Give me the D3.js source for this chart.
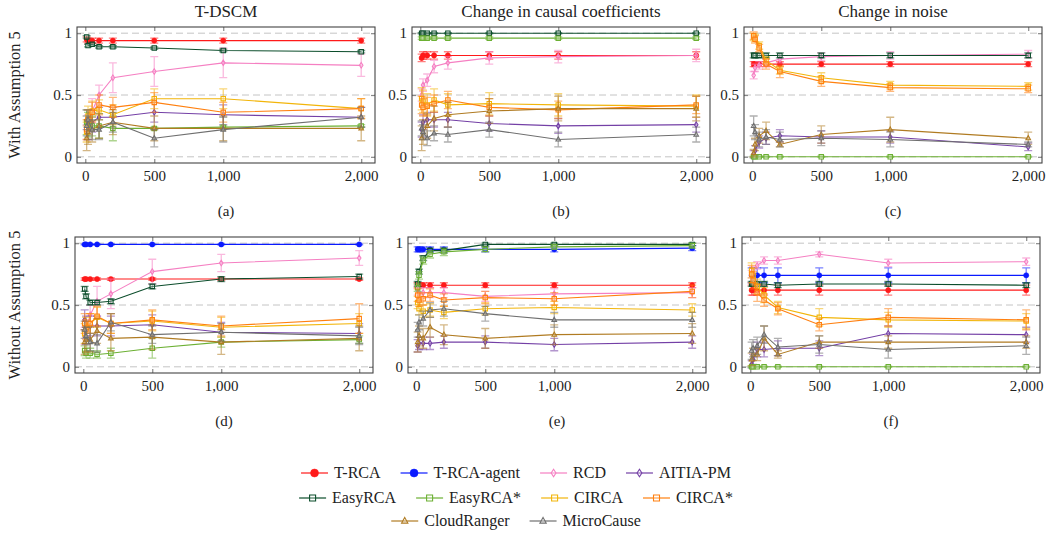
<!DOCTYPE html>
<html><head><meta charset="utf-8">
<script src="https://cdn.jsdelivr.net/npm/d3@7"></script>
<style>
body{margin:0;background:#fff}
svg text{font-family:'Liberation Serif','DejaVu Serif',serif !important;fill:#222}
</style>
</head><body>
<svg id="chart" width="1051" height="536"></svg>
<script>
// ---------------- data ----------------
const xValues = [10, 20, 50, 100, 200, 500, 1000, 2000];
const xTicks = [0, 500, 1000, 2000];
const xTickLabels = ["0", "500", "1,000", "2,000"];
const yTicks = [0, 0.5, 1];
const yTickLabels = ["0", "0.5", "1"];
const methods = ["T-RCA", "T-RCA-agent", "RCD", "AITIA-PM", "EasyRCA", "EasyRCA*", "CIRCA", "CIRCA*", "CloudRanger", "MicroCause"];
const panelTitles = ["T-DSCM", "Change in causal coefficients", "Change in noise"];
const panelLabels = ["(a)", "(b)", "(c)", "(d)", "(e)", "(f)"];
const rowLabels = ["With Assumption 5", "Without Assumption 5"];

// (a) T-DSCM, with Assumption 5
const meanA = {
  "T-RCA":       [0.95, 0.94, 0.94, 0.94, 0.94, 0.94, 0.94, 0.94],
  "RCD":         [0.20, 0.26, 0.37, 0.50, 0.64, 0.69, 0.76, 0.74],
  "AITIA-PM":    [0.30, 0.22, 0.28, 0.32, 0.32, 0.36, 0.34, 0.32],
  "EasyRCA":     [0.97, 0.90, 0.91, 0.89, 0.89, 0.88, 0.86, 0.85],
  "EasyRCA*":    [0.28, 0.26, 0.25, 0.25, 0.23, 0.23, 0.24, 0.25],
  "CIRCA":       [0.20, 0.33, 0.37, 0.38, 0.34, 0.47, 0.47, 0.39],
  "CIRCA*":      [0.22, 0.30, 0.36, 0.42, 0.40, 0.44, 0.36, 0.39],
  "CloudRanger": [0.15, 0.20, 0.22, 0.25, 0.28, 0.23, 0.23, 0.23],
  "MicroCause":  [0.25, 0.30, 0.22, 0.22, 0.28, 0.15, 0.22, 0.32]
};
const errA = {
  "T-RCA":       [0.02, 0.02, 0.02, 0.02, 0.02, 0.02, 0.02, 0.02],
  "RCD":         [0.06, 0.08, 0.10, 0.08, 0.12, 0.12, 0.12, 0.09],
  "AITIA-PM":    [0.08, 0.08, 0.08, 0.08, 0.08, 0.08, 0.08, 0.08],
  "EasyRCA":     [0.01, 0.01, 0.01, 0.01, 0.01, 0.01, 0.01, 0.01],
  "EasyRCA*":    [0.10, 0.10, 0.08, 0.10, 0.10, 0.01, 0.01, 0.01],
  "CIRCA":       [0.08, 0.08, 0.08, 0.08, 0.08, 0.08, 0.08, 0.08],
  "CIRCA*":      [0.08, 0.08, 0.08, 0.08, 0.08, 0.08, 0.08, 0.08],
  "CloudRanger": [0.10, 0.10, 0.10, 0.10, 0.10, 0.10, 0.10, 0.10],
  "MicroCause":  [0.08, 0.08, 0.08, 0.08, 0.08, 0.07, 0.10, 0.08]
};

// (b) Change in causal coefficients, with Assumption 5
const meanB = {
  "T-RCA":       [0.80, 0.82, 0.82, 0.82, 0.82, 0.82, 0.82, 0.82],
  "RCD":         [0.50, 0.58, 0.62, 0.73, 0.76, 0.80, 0.81, 0.82],
  "AITIA-PM":    [0.22, 0.28, 0.30, 0.30, 0.30, 0.27, 0.25, 0.26],
  "EasyRCA":     [1.00, 1.00, 1.00, 1.00, 1.00, 1.00, 1.00, 1.00],
  "EasyRCA*":    [0.96, 0.96, 0.96, 0.96, 0.96, 0.96, 0.96, 0.96],
  "CIRCA":       [0.47, 0.45, 0.42, 0.46, 0.42, 0.43, 0.42, 0.41],
  "CIRCA*":      [0.42, 0.40, 0.41, 0.43, 0.46, 0.40, 0.38, 0.42],
  "CloudRanger": [0.15, 0.20, 0.25, 0.31, 0.34, 0.37, 0.39, 0.39],
  "MicroCause":  [0.23, 0.20, 0.15, 0.19, 0.18, 0.22, 0.14, 0.18]
};
const errB = {
  "T-RCA":       [0.03, 0.03, 0.03, 0.03, 0.03, 0.03, 0.03, 0.03],
  "RCD":         [0.05, 0.05, 0.05, 0.05, 0.05, 0.05, 0.05, 0.05],
  "AITIA-PM":    [0.06, 0.06, 0.06, 0.06, 0.06, 0.06, 0.06, 0.06],
  "EasyRCA":     [0.005, 0.005, 0.005, 0.005, 0.005, 0.005, 0.005, 0.005],
  "EasyRCA*":    [0.01, 0.01, 0.01, 0.01, 0.01, 0.01, 0.01, 0.01],
  "CIRCA":       [0.09, 0.09, 0.09, 0.09, 0.09, 0.09, 0.09, 0.09],
  "CIRCA*":      [0.07, 0.07, 0.07, 0.07, 0.07, 0.07, 0.07, 0.07],
  "CloudRanger": [0.10, 0.10, 0.10, 0.10, 0.10, 0.10, 0.10, 0.10],
  "MicroCause":  [0.06, 0.06, 0.06, 0.06, 0.06, 0.06, 0.06, 0.06]
};

// (c) Change in noise, with Assumption 5
const meanC = {
  "T-RCA":       [0.75, 0.75, 0.75, 0.75, 0.75, 0.75, 0.75, 0.75],
  "RCD":         [0.66, 0.72, 0.74, 0.76, 0.79, 0.81, 0.82, 0.83],
  "AITIA-PM":    [0.02, 0.05, 0.12, 0.15, 0.17, 0.16, 0.16, 0.08],
  "EasyRCA":     [0.82, 0.82, 0.82, 0.82, 0.82, 0.82, 0.82, 0.82],
  "EasyRCA*":    [0.00, 0.00, 0.00, 0.00, 0.00, 0.00, 0.00, 0.00],
  "CIRCA":       [0.97, 0.96, 0.90, 0.78, 0.70, 0.64, 0.58, 0.57],
  "CIRCA*":      [0.98, 0.95, 0.88, 0.75, 0.69, 0.61, 0.56, 0.55],
  "CloudRanger": [0.03, 0.10, 0.17, 0.21, 0.10, 0.18, 0.22, 0.15],
  "MicroCause":  [0.25, 0.20, 0.14, 0.16, 0.14, 0.15, 0.14, 0.10]
};
const errC = {
  "T-RCA":       [0.02, 0.02, 0.02, 0.02, 0.02, 0.02, 0.02, 0.02],
  "RCD":         [0.03, 0.03, 0.03, 0.03, 0.03, 0.03, 0.03, 0.03],
  "AITIA-PM":    [0.03, 0.04, 0.05, 0.05, 0.05, 0.05, 0.05, 0.03],
  "EasyRCA":     [0.02, 0.02, 0.02, 0.02, 0.02, 0.02, 0.02, 0.02],
  "EasyRCA*":    [0.005, 0.005, 0.005, 0.005, 0.005, 0.005, 0.005, 0.005],
  "CIRCA":       [0.03, 0.03, 0.03, 0.03, 0.03, 0.04, 0.03, 0.03],
  "CIRCA*":      [0.03, 0.03, 0.03, 0.04, 0.05, 0.04, 0.03, 0.03],
  "CloudRanger": [0.03, 0.05, 0.06, 0.07, 0.02, 0.07, 0.10, 0.05],
  "MicroCause":  [0.08, 0.06, 0.06, 0.06, 0.06, 0.06, 0.06, 0.02]
};

// (d) T-DSCM, without Assumption 5
const meanD = {
  "T-RCA":       [0.71, 0.71, 0.71, 0.71, 0.71, 0.71, 0.71, 0.71],
  "T-RCA-agent": [0.99, 0.99, 0.99, 0.99, 0.99, 0.99, 0.99, 0.99],
  "RCD":         [0.25, 0.30, 0.42, 0.53, 0.59, 0.77, 0.84, 0.88],
  "AITIA-PM":    [0.38, 0.33, 0.33, 0.33, 0.33, 0.34, 0.28, 0.27],
  "EasyRCA":     [0.63, 0.57, 0.52, 0.52, 0.53, 0.65, 0.71, 0.73],
  "EasyRCA*":    [0.13, 0.11, 0.11, 0.10, 0.11, 0.15, 0.20, 0.22],
  "CIRCA":       [0.27, 0.32, 0.35, 0.40, 0.35, 0.37, 0.32, 0.35],
  "CIRCA*":      [0.35, 0.30, 0.35, 0.41, 0.35, 0.38, 0.33, 0.39],
  "CloudRanger": [0.20, 0.22, 0.22, 0.29, 0.23, 0.24, 0.20, 0.23],
  "MicroCause":  [0.30, 0.25, 0.20, 0.19, 0.36, 0.26, 0.28, 0.25]
};
const errD = {
  "T-RCA":       [0.01, 0.01, 0.01, 0.01, 0.01, 0.01, 0.01, 0.01],
  "T-RCA-agent": [0.003, 0.003, 0.003, 0.003, 0.003, 0.003, 0.003, 0.003],
  "RCD":         [0.07, 0.07, 0.08, 0.12, 0.12, 0.10, 0.07, 0.06],
  "AITIA-PM":    [0.08, 0.08, 0.08, 0.08, 0.08, 0.08, 0.08, 0.08],
  "EasyRCA":     [0.02, 0.02, 0.02, 0.02, 0.02, 0.02, 0.02, 0.02],
  "EasyRCA*":    [0.04, 0.04, 0.04, 0.03, 0.04, 0.08, 0.04, 0.03],
  "CIRCA":       [0.08, 0.08, 0.08, 0.08, 0.08, 0.08, 0.08, 0.08],
  "CIRCA*":      [0.08, 0.08, 0.08, 0.08, 0.08, 0.08, 0.08, 0.12],
  "CloudRanger": [0.10, 0.10, 0.10, 0.10, 0.10, 0.10, 0.10, 0.10],
  "MicroCause":  [0.07, 0.07, 0.07, 0.07, 0.07, 0.07, 0.07, 0.07]
};

// (e) Change in causal coefficients, without Assumption 5
const meanE = {
  "T-RCA":       [0.66, 0.66, 0.66, 0.66, 0.66, 0.66, 0.66, 0.66],
  "T-RCA-agent": [0.95, 0.95, 0.95, 0.95, 0.95, 0.95, 0.95, 0.96],
  "RCD":         [0.62, 0.60, 0.60, 0.60, 0.60, 0.57, 0.59, 0.60],
  "AITIA-PM":    [0.17, 0.19, 0.19, 0.19, 0.20, 0.20, 0.18, 0.20],
  "EasyRCA":     [0.67, 0.77, 0.88, 0.94, 0.94, 0.99, 0.99, 0.99],
  "EasyRCA*":    [0.64, 0.74, 0.86, 0.91, 0.93, 0.95, 0.97, 0.98],
  "CIRCA":       [0.52, 0.47, 0.45, 0.46, 0.44, 0.47, 0.48, 0.46],
  "CIRCA*":      [0.58, 0.54, 0.55, 0.58, 0.54, 0.56, 0.55, 0.61],
  "CloudRanger": [0.20, 0.25, 0.23, 0.32, 0.26, 0.23, 0.26, 0.27],
  "MicroCause":  [0.30, 0.36, 0.39, 0.46, 0.47, 0.43, 0.38, 0.38]
};
const errE = {
  "T-RCA":       [0.02, 0.02, 0.02, 0.02, 0.02, 0.02, 0.02, 0.02],
  "T-RCA-agent": [0.02, 0.02, 0.02, 0.02, 0.02, 0.02, 0.02, 0.02],
  "RCD":         [0.04, 0.04, 0.04, 0.04, 0.04, 0.04, 0.04, 0.04],
  "AITIA-PM":    [0.05, 0.05, 0.05, 0.05, 0.05, 0.05, 0.05, 0.05],
  "EasyRCA":     [0.02, 0.02, 0.02, 0.02, 0.02, 0.01, 0.01, 0.01],
  "EasyRCA*":    [0.03, 0.03, 0.03, 0.03, 0.03, 0.02, 0.02, 0.02],
  "CIRCA":       [0.05, 0.05, 0.05, 0.05, 0.05, 0.05, 0.05, 0.05],
  "CIRCA*":      [0.05, 0.05, 0.05, 0.05, 0.05, 0.05, 0.05, 0.05],
  "CloudRanger": [0.08, 0.08, 0.08, 0.08, 0.08, 0.08, 0.08, 0.08],
  "MicroCause":  [0.06, 0.06, 0.06, 0.06, 0.06, 0.06, 0.06, 0.06]
};

// (f) Change in noise, without Assumption 5
const meanF = {
  "T-RCA":       [0.62, 0.62, 0.62, 0.62, 0.62, 0.62, 0.62, 0.62],
  "T-RCA-agent": [0.74, 0.74, 0.74, 0.74, 0.74, 0.74, 0.74, 0.74],
  "RCD":         [0.75, 0.78, 0.82, 0.86, 0.86, 0.91, 0.84, 0.85],
  "AITIA-PM":    [0.02, 0.06, 0.14, 0.14, 0.15, 0.15, 0.27, 0.26],
  "EasyRCA":     [0.67, 0.67, 0.67, 0.67, 0.66, 0.67, 0.67, 0.66],
  "EasyRCA*":    [0.00, 0.00, 0.00, 0.00, 0.00, 0.00, 0.00, 0.00],
  "CIRCA":       [0.78, 0.74, 0.65, 0.58, 0.48, 0.40, 0.38, 0.37],
  "CIRCA*":      [0.75, 0.70, 0.60, 0.54, 0.47, 0.34, 0.40, 0.38],
  "CloudRanger": [0.06, 0.10, 0.10, 0.23, 0.10, 0.20, 0.20, 0.20],
  "MicroCause":  [0.13, 0.15, 0.17, 0.26, 0.16, 0.18, 0.14, 0.17]
};
const errF = {
  "T-RCA":       [0.04, 0.04, 0.04, 0.04, 0.04, 0.04, 0.04, 0.04],
  "T-RCA-agent": [0.06, 0.06, 0.06, 0.06, 0.06, 0.06, 0.06, 0.06],
  "RCD":         [0.03, 0.03, 0.03, 0.03, 0.03, 0.02, 0.03, 0.03],
  "AITIA-PM":    [0.03, 0.04, 0.06, 0.06, 0.06, 0.06, 0.06, 0.06],
  "EasyRCA":     [0.02, 0.02, 0.02, 0.02, 0.02, 0.02, 0.02, 0.02],
  "EasyRCA*":    [0.005, 0.005, 0.005, 0.005, 0.005, 0.005, 0.005, 0.005],
  "CIRCA":       [0.06, 0.06, 0.06, 0.06, 0.05, 0.07, 0.06, 0.06],
  "CIRCA*":      [0.07, 0.07, 0.07, 0.05, 0.05, 0.05, 0.07, 0.08],
  "CloudRanger": [0.05, 0.05, 0.05, 0.10, 0.03, 0.05, 0.05, 0.05],
  "MicroCause":  [0.07, 0.07, 0.07, 0.07, 0.07, 0.07, 0.07, 0.07]
};

// ---------------- styles ----------------
const FONT = "'Liberation Serif','DejaVu Serif',serif";
const colors = {
  "T-RCA": "#ff1a1a", "T-RCA-agent": "#0a1aff", "RCD": "#f57fc2", "AITIA-PM": "#7440a6",
  "EasyRCA": "#0b4d2b", "EasyRCA*": "#6cb033", "CIRCA": "#f2b50a", "CIRCA*": "#ff8010",
  "CloudRanger": "#b07b22", "MicroCause": "#6f6f6f"
};
const shapes = {
  "T-RCA": "circle", "T-RCA-agent": "circle", "RCD": "diamond", "AITIA-PM": "diamond",
  "EasyRCA": "square", "EasyRCA*": "square", "CIRCA": "square", "CIRCA*": "square",
  "CloudRanger": "triangle", "MicroCause": "triangle"
};

const panels = [
  {mean: meanA, err: errA, left: 77,  top: 27},
  {mean: meanB, err: errB, left: 412, top: 27},
  {mean: meanC, err: errC, left: 744, top: 27},
  {mean: meanD, err: errD, left: 75,  top: 237},
  {mean: meanE, err: errE, left: 408, top: 237},
  {mean: meanF, err: errF, left: 742, top: 237}
];
const PW = 298, PH = 136;

const svg = d3.select("#chart");

function markerPath(shape, s) {
  if (shape === "diamond") return `M0,${-s*1.25}L${s*0.8},0L0,${s*1.25}L${-s*0.8},0Z`;
  if (shape === "square") return `M${-s},${-s}H${s}V${s}H${-s}Z`;
  if (shape === "triangle") return `M0,${-s*1.2}L${s*1.05},${s*0.7}L${-s*1.05},${s*0.7}Z`;
  return d3.symbol(d3.symbolCircle, Math.PI * s * s)();
}
function drawMarker(g, shape, color, x, y, s) {
  const filled = shape === "circle";
  g.append("path").attr("d", markerPath(shape, s))
    .attr("transform", `translate(${x},${y})`)
    .attr("fill", filled ? color : "#fff")
    .attr("fill-opacity", filled ? 1 : 0.25)
    .attr("stroke", color).attr("stroke-width", filled ? 0.5 : 1.1);
}

panels.forEach((p, i) => {
  const g = svg.append("g");
  const x = d3.scaleLinear().domain([-60, 2100]).range([p.left, p.left + PW]);
  const y = d3.scaleLinear().domain([-0.05, 1.05]).range([p.top + PH, p.top]);

  // grid
  g.append("g").selectAll("line").data(yTicks).join("line")
    .attr("x1", p.left).attr("x2", p.left + PW)
    .attr("y1", d => y(d)).attr("y2", d => y(d))
    .attr("stroke", "#c4c4c4").attr("stroke-width", 1).attr("stroke-dasharray", "7,4");

  // axes (inward ticks)
  const tickStyle = sel => {
    sel.attr("font-family", FONT);
    sel.select(".domain").remove();
    sel.selectAll(".tick line").attr("stroke", "#888").attr("stroke-width", 1.2);
    sel.selectAll("text").attr("font-size", 15).attr("fill", "#222").attr("font-family", FONT);
  };
  g.append("g").attr("transform", `translate(0,${p.top + PH})`)
    .call(d3.axisBottom(x).tickValues(xTicks).tickFormat((d, k) => xTickLabels[k])
      .tickSizeInner(-4).tickSizeOuter(0).tickPadding(7)).call(tickStyle);
  g.append("g").attr("transform", `translate(0,${p.top})`)
    .call(d3.axisTop(x).tickValues(xTicks).tickFormat("").tickSizeInner(-4).tickSizeOuter(0)).call(tickStyle);
  g.append("g").attr("transform", `translate(${p.left},0)`)
    .call(d3.axisLeft(y).tickValues(yTicks).tickFormat((d, k) => yTickLabels[k])
      .tickSizeInner(-4).tickSizeOuter(0).tickPadding(5)).call(tickStyle);
  g.append("g").attr("transform", `translate(${p.left + PW},0)`)
    .call(d3.axisRight(y).tickValues(yTicks).tickFormat("").tickSizeInner(-4).tickSizeOuter(0)).call(tickStyle);

  // series
  const clip = "clip" + i;
  svg.append("clipPath").attr("id", clip).append("rect")
    .attr("x", p.left).attr("y", p.top - 2).attr("width", PW).attr("height", PH + 4);
  const sg = g.append("g").attr("clip-path", `url(#${clip})`);
  const line = d3.line().x(d => x(d[0])).y(d => y(d[1]));
  methods.forEach(m => {
    if (!p.mean[m]) return;
    const col = colors[m];
    const pts = xValues.map((xv, k) => [xv, p.mean[m][k], p.err[m][k]]);
    const s = sg.append("g");
    pts.forEach(d => {
      const x0 = x(d[0]), yl = y(d[1] - d[2]), yh = y(d[1] + d[2]);
      s.append("path").attr("d", `M${x0},${yl}V${yh}M${x0 - 4},${yl}H${x0 + 4}M${x0 - 4},${yh}H${x0 + 4}`)
        .attr("stroke", col).attr("stroke-opacity", 0.55).attr("stroke-width", 1.3).attr("fill", "none");
    });
    s.append("path").datum(pts).attr("d", line)
      .attr("fill", "none").attr("stroke", col).attr("stroke-width", 1.1);
    pts.forEach(d => drawMarker(s, shapes[m], col, x(d[0]), y(d[1]), shapes[m] === "circle" ? 2.6 : 2.2));
  });

  g.append("rect").attr("x", p.left).attr("y", p.top).attr("width", PW).attr("height", PH)
    .attr("fill", "none").attr("stroke", "#444").attr("stroke-width", 1.1);

  g.append("text").attr("x", p.left + PW / 2).attr("y", p.top + PH + 53)
    .attr("text-anchor", "middle").attr("font-size", 15).attr("font-family", FONT).text(panelLabels[i]);
  if (i < 3) {
    g.append("text").attr("x", p.left + PW / 2).attr("y", 17)
      .attr("text-anchor", "middle").attr("font-size", 17).attr("font-family", FONT).text(panelTitles[i]);
  }
});

rowLabels.forEach((t, r) => {
  const cy = r === 0 ? 95 : 305;
  svg.append("text").attr("transform", `translate(20,${cy}) rotate(-90)`)
    .attr("text-anchor", "middle").attr("font-size", 16.5).attr("font-family", FONT).text(t);
});

const legendRows = [
  ["T-RCA", "T-RCA-agent", "RCD", "AITIA-PM"],
  ["EasyRCA", "EasyRCA*", "CIRCA", "CIRCA*"],
  ["CloudRanger", "MicroCause"]
];
const legendY = [473, 498, 521];
const lg = svg.append("g");
legendRows.forEach((row, r) => {
  const items = row.map(m => {
    const t = lg.append("text").attr("font-size", 16).attr("font-family", FONT).attr("y", legendY[r] + 5).text(m);
    return {m, t, w: t.node().getComputedTextLength()};
  });
  const gap = 20, lineW = 27, tpad = 6;
  const total = d3.sum(items, d => lineW + tpad + d.w) + gap * (items.length - 1);
  let cx = 516 - total / 2;
  items.forEach(d => {
    const col = colors[d.m];
    lg.append("line").attr("x1", cx).attr("x2", cx + lineW)
      .attr("y1", legendY[r]).attr("y2", legendY[r]).attr("stroke", col).attr("stroke-width", 1.2);
    drawMarker(lg, shapes[d.m], col, cx + lineW / 2, legendY[r], shapes[d.m] === "circle" ? 4 : 3);
    d.t.attr("x", cx + lineW + tpad);
    cx += lineW + tpad + d.w + gap;
  });
});
</script>
</body></html>
